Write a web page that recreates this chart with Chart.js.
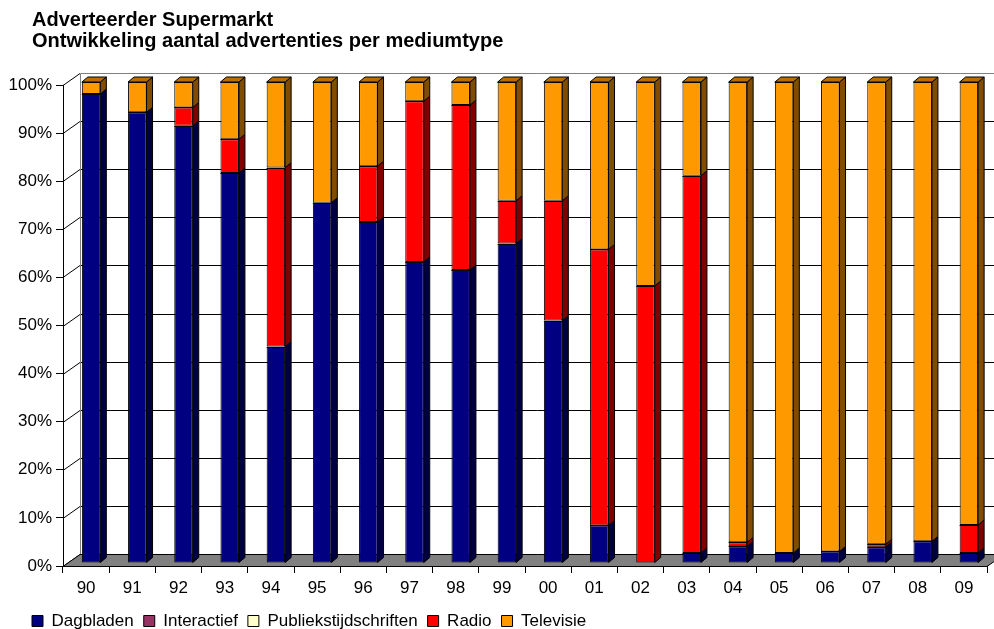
<!DOCTYPE html>
<html>
<head>
<meta charset="utf-8">
<title>Adverteerder Supermarkt</title>
<script src="https://cdn.jsdelivr.net/npm/chart.js@4.4.1/dist/chart.umd.min.js"></script>
<style>
  html, body { margin: 0; padding: 0; background: #fff; }
  canvas { display: block; }
</style>
</head>
<body>
<canvas id="mediumtype" width="994" height="629"></canvas>
<script>
const years = ["90", "91", "92", "93", "94", "95", "96", "97", "98", "99",
               "00", "01", "02", "03", "04", "05", "06", "07", "08", "09"]

// share per medium type, in percent of all ads that year
const dagbladen = [97.5, 93.7, 90.9, 81.1, 45.0, 74.9, 70.9, 62.6, 60.9, 66.4,
                   50.4, 7.8, 0, 2.1, 3.5, 2.1, 2.4, 3.3, 4.5, 2.1]
const interactief = [0, 0, 0, 0, 0, 0, 0, 0, 0, 0,
                     0, 0, 0, 0, 0, 0, 0, 0, 0, 0]
const publiekstijdschriften = [0, 0, 0, 0, 0, 0, 0, 0, 0, 0,
                               0, 0, 0, 0, 0, 0, 0, 0, 0, 0]
const radio = [0, 0, 3.8, 7.0, 37.2, 0, 11.6, 33.4, 34.3, 8.9,
               24.9, 57.4, 57.6, 78.4, 0.8, 0, 0, 0.6, 0, 5.8]
const televisie = [2.5, 6.3, 5.3, 11.9, 17.8, 25.1, 17.5, 4.0, 4.8, 24.7,
                   24.7, 34.8, 42.4, 19.5, 95.7, 97.9, 97.6, 96.1, 95.5, 92.1]

const yTicks = [0, 10, 20, 30, 40, 50, 60, 70, 80, 90, 100]

const series = [
  { label: "Dagbladen", data: dagbladen, color: "#000080" },
  { label: "Interactief", data: interactief, color: "#993366" },
  { label: "Publiekstijdschriften", data: publiekstijdschriften, color: "#FFFFCC" },
  { label: "Radio", data: radio, color: "#FF0000" },
  { label: "Televisie", data: televisie, color: "#FF9900" },
]

// fake 3D: wall depth, where the bar fronts sit, and bar depth
const wallDepth = { dx: 17, dy: -12 }
const barShift = { dx: 5, dy: -3 }
const barDepth = { dx: 6, dy: -5 }
const indent = 32

function shade(hex, f) {
  const n = parseInt(hex.slice(1), 16)
  const r = Math.round(((n >> 16) & 255) * f)
  const g = Math.round(((n >> 8) & 255) * f)
  const b = Math.round((n & 255) * f)
  return `rgb(${r},${g},${b})`
}

function poly(ctx, pts, fill) {
  ctx.beginPath()
  ctx.moveTo(pts[0][0], pts[0][1])
  for (let i = 1; i < pts.length; i++) ctx.lineTo(pts[i][0], pts[i][1])
  ctx.closePath()
  ctx.fillStyle = fill
  ctx.fill()
  ctx.stroke()
}

const box3d = {
  id: "box3d",
  afterLayout(chart) {
    // title and legend are indented, the axis labels are not
    const p = chart.options.plugins.legend.labels.padding
    chart.titleBlock.left += indent
    chart.legend.left += indent - p
    chart.legend.right += indent - p
  },
  beforeDatasetsDraw(chart) {
    const { ctx, chartArea: a, scales: { y } } = chart
    const dx = wallDepth.dx, dy = wallDepth.dy
    ctx.save()
    ctx.lineWidth = 1

    // back wall grid + the diagonals from the axis ticks
    yTicks.forEach((v) => {
      const py = Math.round(y.getPixelForValue(v)) + 0.5
      ctx.strokeStyle = "#000"
      ctx.beginPath()
      ctx.moveTo(a.left, py)
      ctx.lineTo(a.left + dx, py + dy)
      if (v < 100) ctx.lineTo(a.right + dx + 20, py + dy)
      ctx.stroke()
    })
    const topY = Math.round(y.getPixelForValue(100)) + 0.5 + dy
    const botY = Math.round(y.getPixelForValue(0)) + 0.5
    ctx.strokeStyle = "#808080"
    ctx.beginPath()
    ctx.moveTo(a.left + dx + 0.5, botY + dy)
    ctx.lineTo(a.left + dx + 0.5, topY)
    ctx.lineTo(a.right + dx + 20, topY)
    ctx.stroke()

    // floor
    ctx.strokeStyle = "#000"
    poly(ctx, [[a.left, botY], [a.right, botY], [a.right + dx, botY + dy], [a.left + dx, botY + dy]], "#808080")
    ctx.restore()

    ctx.save()
    ctx.translate(barShift.dx, barShift.dy)
  },
  afterDatasetsDraw(chart) {
    const { ctx } = chart
    ctx.restore()
    ctx.save()
    ctx.lineWidth = 1
    ctx.strokeStyle = "#000"
    ctx.lineJoin = "round"
    const bx = barDepth.dx, by = barDepth.dy
    for (let i = 0; i < years.length; i++) {
      let top = null
      chart.data.datasets.forEach((ds, d) => {
        if (!ds.data[i]) return
        const el = chart.getDatasetMeta(d).data[i]
        const { x, y, base, width } = el.getProps(["x", "y", "base", "width"], true)
        const left = x - width / 2 + barShift.dx
        const right = x + width / 2 + barShift.dx
        const t = y + barShift.dy
        const b = base + barShift.dy
        poly(ctx, [[right, t], [right + bx, t + by], [right + bx, b + by], [right, b]], shade(series[d].color, 0.5))
        // crisp outline on the front face so segment edges read as black
        ctx.beginPath()
        ctx.moveTo(left, Math.round(t) + 0.5)
        ctx.lineTo(right, Math.round(t) + 0.5)
        ctx.stroke()
        top = { left, right, t, color: series[d].color }
      })
      if (top) {
        poly(ctx, [[top.left, top.t], [top.left + bx, top.t + by], [top.right + bx, top.t + by], [top.right, top.t]], shade(top.color, 0.72))
      }
    }
    ctx.restore()
  },
}

Chart.defaults.font.family = '"Liberation Sans", Arial, sans-serif'
Chart.defaults.font.size = 17
Chart.defaults.color = "#000"

new Chart(document.getElementById("mediumtype"), {
  type: "bar",
  data: {
    labels: years,
    datasets: series.map((s) => ({
      label: s.label,
      data: s.data,
      backgroundColor: s.color,
      borderColor: "#000",
      borderWidth: 1,
      borderSkipped: false,
      barPercentage: 0.4,
      categoryPercentage: 1,
    })),
  },
  options: {
    responsive: false,
    animation: false,
    devicePixelRatio: 1,
    layout: { padding: { left: 0, right: 7, top: 0, bottom: -10.5 } },
    plugins: {
      title: {
        display: true,
        text: ["Adverteerder Supermarkt", "Ontwikkeling aantal advertenties per mediumtype"],
        align: "start",
        color: "#000",
        font: { size: 20, weight: "bold", lineHeight: 1.05 },
        padding: { top: 10, bottom: 33 },
      },
      legend: {
        position: "bottom",
        align: "start",
        labels: { boxWidth: 11, boxHeight: 11, padding: 10, color: "#000" },
      },
      tooltip: { enabled: false },
    },
    scales: {
      x: {
        stacked: true,
        grid: { offset: true, drawOnChartArea: false, tickLength: 7, color: "#000" },
        border: { color: "#000" },
        ticks: { padding: 5, maxRotation: 0, autoSkip: false },
        afterFit: (s) => { s.height = 36.5 },
      },
      y: {
        stacked: true,
        min: 0,
        max: 100,
        grid: { drawOnChartArea: false, tickLength: 7, color: "#000" },
        border: { color: "#000" },
        ticks: { stepSize: 10, padding: 4, callback: (v) => v + "%" },
        afterFit: (s) => { s.width = 63 },
      },
    },
  },
  plugins: [box3d],
})
</script>
</body>
</html>
